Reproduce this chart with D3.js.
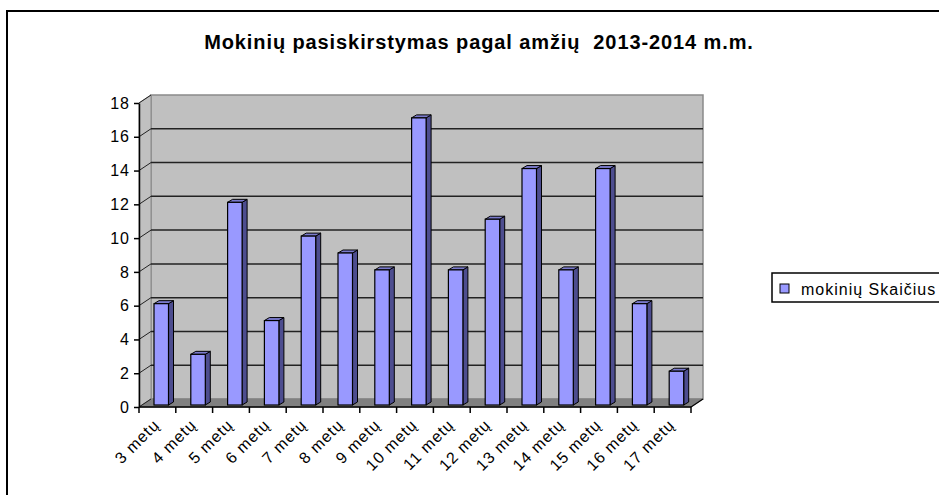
<!DOCTYPE html>
<html>
<head>
<meta charset="utf-8">
<script src="https://cdn.jsdelivr.net/npm/d3@7"></script>
<style>
  body { margin: 0; background: #fff; }
  svg { display: block; font-family: Arial, "Liberation Sans", sans-serif; }
  .title { white-space: pre; }
</style>
</head>
<body>
<div id="chart"></div>
<script>
var categories = ["3 metų", "4 metų", "5 metų", "6 metų", "7 metų", "8 metų", "9 metų", "10 metų",
  "11 metų", "12 metų", "13 metų", "14 metų", "15 metų", "16 metų", "17 metų"];
var values = [6, 3, 12, 5, 10, 9, 8, 17, 8, 11, 14, 8, 14, 6, 2];
var yTicks = [0, 2, 4, 6, 8, 10, 12, 14, 16, 18];
var seriesName = "mokinių Skaičius";
var titleText = "Mokinių pasiskirstymas pagal amžių  2013-2014 m.m.";

var W = 939, H = 495;
// 3d depth of the walls and of each bar
var depth = { dx: 12, dy: -8 };
var barDepth = { dx: 5, dy: -3 };

var svg = d3.select("#chart").append("svg")
  .attr("width", W)
  .attr("height", H);

// outer frame (right and bottom run off the picture)
svg.append("path")
  .attr("d", "M7,495 L7,11 L945,11")
  .attr("fill", "none")
  .attr("stroke", "#000")
  .attr("stroke-width", 2);

svg.append("text")
  .attr("class", "title")
  .attr("x", 479)
  .attr("y", 49)
  .attr("text-anchor", "middle")
  .attr("font-weight", "bold")
  .attr("font-size", 20)
  .attr("letter-spacing", 0.9)
  .text(titleText);

var x = d3.scaleBand()
  .domain(categories)
  .range([139, 691])
  .padding(0);

var y = d3.scaleLinear()
  .domain([0, 18])
  .range([407, 103]);

var x0 = x.range()[0], x1 = x.range()[1];
var yTop = y(18), yBot = y(0);

function pts(arr) {
  return arr.map(function(p) { return p.join(","); }).join(" ");
}

var walls = svg.append("g");

// back wall
walls.append("rect")
  .attr("x", x0 + depth.dx)
  .attr("y", yTop + depth.dy)
  .attr("width", x1 - x0)
  .attr("height", yBot - yTop)
  .attr("fill", "#c0c0c0")
  .attr("stroke", "#8a8a8a")
  .attr("stroke-width", 1.5);

// left side wall
walls.append("polygon")
  .attr("points", pts([[x0, yBot], [x0, yTop], [x0 + depth.dx, yTop + depth.dy], [x0 + depth.dx, yBot + depth.dy]]))
  .attr("fill", "#c0c0c0")
  .attr("stroke", "#8a8a8a")
  .attr("stroke-width", 1);

// floor
walls.append("polygon")
  .attr("points", pts([[x0, yBot], [x1, yBot], [x1 + depth.dx, yBot + depth.dy], [x0 + depth.dx, yBot + depth.dy]]))
  .attr("fill", "#808080")
  .attr("stroke", "#808080")
  .attr("stroke-width", 1);

// gridlines on back wall and side wall
var grid = svg.append("g");
grid.selectAll(".g-back")
  .data(yTicks.filter(function(d) { return d > 0 && d < 18; }))
  .enter().append("line")
  .attr("x1", x0 + depth.dx)
  .attr("x2", x1 + depth.dx)
  .attr("y1", function(d) { return y(d) + depth.dy; })
  .attr("y2", function(d) { return y(d) + depth.dy; })
  .attr("stroke", "#222")
  .attr("stroke-width", 1.5);

grid.selectAll(".g-side")
  .data(yTicks)
  .enter().append("line")
  .attr("x1", x0)
  .attr("x2", x0 + depth.dx)
  .attr("y1", function(d) { return y(d); })
  .attr("y2", function(d) { return y(d) + depth.dy; })
  .attr("stroke", "#222")
  .attr("stroke-width", 1);

// bars
var bw = x.bandwidth();
var barOff = 15, barW = 14.5;
var bars = svg.append("g").selectAll("g")
  .data(values)
  .enter().append("g");

bars.each(function(v, i) {
  var g = d3.select(this);
  var bx = x(categories[i]) + barOff;
  var top = y(v) - 2;
  var bot = y(0) - 2;
  // side face
  g.append("polygon")
    .attr("points", pts([[bx + barW, bot], [bx + barW, top], [bx + barW + barDepth.dx, top + barDepth.dy], [bx + barW + barDepth.dx, bot + barDepth.dy]]))
    .attr("fill", "#4d4d8f")
    .attr("stroke", "#000")
    .attr("stroke-width", 1)
    .attr("stroke-linejoin", "round");
  // top face
  g.append("polygon")
    .attr("points", pts([[bx, top], [bx + barW, top], [bx + barW + barDepth.dx, top + barDepth.dy], [bx + barDepth.dx, top + barDepth.dy]]))
    .attr("fill", "#7a7acc")
    .attr("stroke", "#000")
    .attr("stroke-width", 1)
    .attr("stroke-linejoin", "round");
  // front face
  g.append("rect")
    .attr("x", bx)
    .attr("y", top)
    .attr("width", barW)
    .attr("height", bot - top)
    .attr("fill", "#9999ff")
    .attr("stroke", "#000")
    .attr("stroke-width", 1.2);
});

// y axis (front edge)
svg.append("g")
  .attr("transform", "translate(" + x0 + ",0)")
  .call(d3.axisLeft(y).tickValues(yTicks).tickSize(5).tickSizeOuter(0).tickPadding(4))
  .call(function(g) {
    g.select(".domain").attr("stroke", "#000").attr("stroke-width", 1.5);
    g.selectAll(".tick line").attr("stroke", "#000").attr("stroke-width", 1.5);
    g.selectAll(".tick text")
      .attr("font-size", 16)
      .attr("letter-spacing", 1)
      .attr("font-family", "Arial, 'Liberation Sans', sans-serif")
      .attr("fill", "#000");
  });

// x axis (front edge of the floor)
var xa = svg.append("g");
xa.append("line")
  .attr("x1", x0).attr("x2", x1)
  .attr("y1", yBot).attr("y2", yBot)
  .attr("stroke", "#000")
  .attr("stroke-width", 1.5);
xa.append("line")
  .attr("x1", x1).attr("x2", x1 + depth.dx)
  .attr("y1", yBot).attr("y2", yBot + depth.dy)
  .attr("stroke", "#000")
  .attr("stroke-width", 1.2);
xa.selectAll(".xt")
  .data(categories.concat(["end"]))
  .enter().append("line")
  .attr("x1", function(d, i) { return x0 + i * bw; })
  .attr("x2", function(d, i) { return x0 + i * bw; })
  .attr("y1", yBot)
  .attr("y2", yBot + 6)
  .attr("stroke", "#000")
  .attr("stroke-width", 1.5);
xa.selectAll(".xl")
  .data(categories)
  .enter().append("text")
  .attr("transform", function(d) {
    return "translate(" + (x(d) + bw / 2 + 3) + "," + (yBot + 19) + ") rotate(-45)";
  })
  .attr("text-anchor", "end")
  .attr("font-size", 16)
  .attr("letter-spacing", 1)
  .text(function(d) { return d; });

// legend
var lg = svg.append("g");
lg.append("rect")
  .attr("x", 772)
  .attr("y", 273)
  .attr("width", 200)
  .attr("height", 29)
  .attr("fill", "#fff")
  .attr("stroke", "#000")
  .attr("stroke-width", 1.5);
lg.append("rect")
  .attr("x", 780)
  .attr("y", 284)
  .attr("width", 9)
  .attr("height", 9)
  .attr("fill", "#9999ff")
  .attr("stroke", "#000")
  .attr("stroke-width", 1);
lg.append("text")
  .attr("x", 801)
  .attr("y", 295)
  .attr("font-size", 16)
  .attr("letter-spacing", 1)
  .text(seriesName);
</script>
</body>
</html>
